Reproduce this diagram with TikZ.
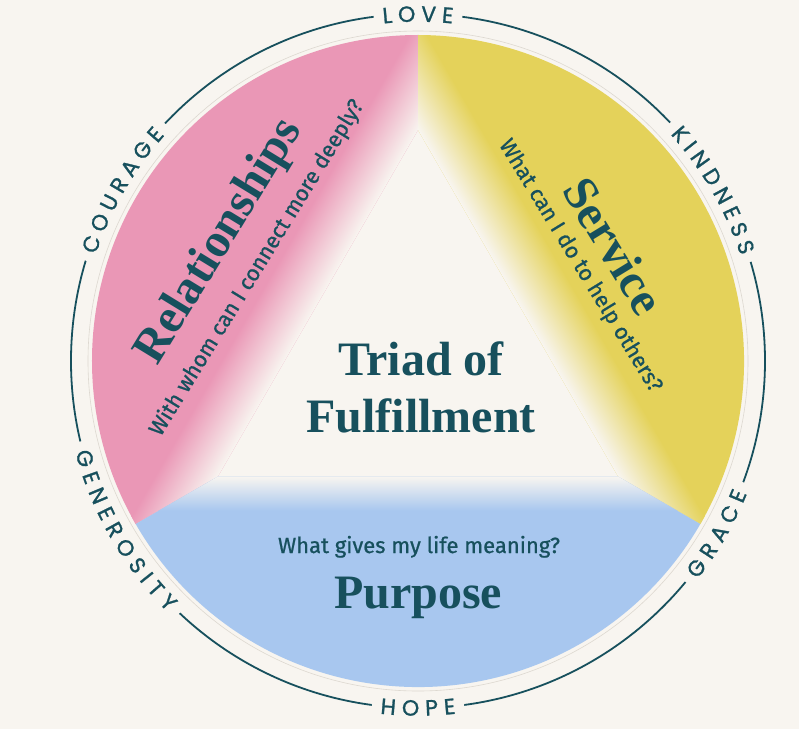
\documentclass[tikz,border=0pt]{standalone}
\usepackage{fontspec}
\setmainfont{Liberation Serif}
\newfontfamily\ringfam{Poppins}[FakeBold=1.2]
\newfontfamily\subfam{Fira Sans}[FakeBold=0.8]
\definecolor{bgc}{HTML}{F8F5F0}
\definecolor{pinkc}{HTML}{EA97B6}
\definecolor{yellowc}{HTML}{E4D25A}
\definecolor{bluec}{HTML}{A8C7EF}
\definecolor{tealc}{HTML}{17505D}
\definecolor{faintc}{HTML}{DDD8D0}
\newcommand\ringfont{\ringfam\fontsize{22}{22}\selectfont}
\newdimen\rwlen
\def\ringtrack{6}
\def\ringR{347}
\newcommand\measureletters[1]{%
  \foreach \rwch in {#1}{%
    \settowidth\rwlen{\ringfont\rwch}%
    \expandafter\xdef\csname rww\rwch\endcsname{\the\rwlen}}}
\newcommand\ringword[3]{%
  \gdef\rwsum{0}%
  \foreach \rwch in {#3}{%
    \edef\rwwid{\csname rww\rwch\endcsname}%
    \pgfmathsetmacro\rwtmp{\rwsum+\rwwid+\ringtrack}%
    \global\let\rwsum\rwtmp}%
  \pgfmathsetmacro\rwW{\rwsum-\ringtrack}%
  \pgfmathsetmacro\rwhalf{deg((\rwW/2+9)/\ringR)}%
  \pgfmathsetmacro\rwstart{#1-\rwhalf}%
  \pgfmathsetmacro\rwend{#1+\rwhalf}%
  \draw[gapline] (\rwstart:\ringR) arc[start angle=\rwstart, end angle=\rwend, radius=\ringR];
  \gdef\rwpos{0}%
  \foreach \rwch in {#3}{%
    \edef\rwwid{\csname rww\rwch\endcsname}%
    \pgfmathsetmacro\rwang{#1-(#2)*deg((\rwpos+\rwwid/2-\rwW/2)/\ringR)}%
    \pgfmathsetmacro\rwrot{\rwang-(#2)*90}%
    \node[ringletter, rotate=\rwrot] at (\rwang:\ringR) {\rwch};
    \pgfmathsetmacro\rwtmp{\rwpos+\rwwid+\ringtrack}%
    \global\let\rwpos\rwtmp}%
}
\tikzset{
  ringletter/.style={text=tealc, font=\ringfont, inner sep=0pt, anchor=center, text height=15.4pt, text depth=0pt},
  gapline/.style={draw=bgc, line width=6pt},
  ringline/.style={draw=tealc, line width=1.8pt},
  faint/.style={draw=faintc, line width=0.6pt},
  title/.style={text=tealc, font=\bfseries\fontsize{48}{48}\selectfont, inner sep=0pt},
  subtitle/.style={text=tealc, font=\subfam\fontsize{22}{22}\selectfont, inner sep=0pt},
}
\begin{document}
\measureletters{L,O,V,E,K,I,N,D,S,C,U,R,A,G,H,P,T,Y}%
\begin{tikzpicture}[x=1pt, y=1pt]
  \fill[bgc] (-418,-368) rectangle (381,361);
  \useasboundingbox (-418,-368) rectangle (381,361);
  \coordinate (O) at (0,0);
  % pink sector
  \begin{scope}
    \clip (90:231) -- (90:326) arc[start angle=90, end angle=210, radius=326] -- (210:231) -- cycle;
    \fill[pinkc] (-420,-370) rectangle (400,370);
    \begin{scope}[transform canvas={shift={(150:115.5)}, rotate=60}]
      \shade[bottom color=bgc, top color=pinkc] (-320,0) rectangle (320,55);
    \end{scope}
  \end{scope}
  % yellow sector
  \begin{scope}
    \clip (330:231) -- (330:326) arc[start angle=330, end angle=450, radius=326] -- (90:231) -- cycle;
    \fill[yellowc] (-420,-370) rectangle (400,370);
    \begin{scope}[transform canvas={shift={(30:115.5)}, rotate=-60}]
      \shade[bottom color=bgc, top color=yellowc] (-320,0) rectangle (320,55);
    \end{scope}
  \end{scope}
  % blue sector
  \begin{scope}
    \clip (210:231) -- (210:326) arc[start angle=210, end angle=330, radius=326] -- (330:231) -- cycle;
    \fill[bluec] (-420,-370) rectangle (400,370);
    \begin{scope}[transform canvas={shift={(270:115.5)}, rotate=180}]
      \shade[bottom color=bgc, top color=bluec] (-320,0) rectangle (320,34);
    \end{scope}
  \end{scope}
  \draw[faint] (O) circle[radius=330];
  % outer ring
  \draw[ringline] (O) circle[radius=\ringR];
  \ringword{90}{1}{L,O,V,E}
  \ringword{30}{1}{K,I,N,D,N,E,S,S}
  \ringword{150}{1}{C,O,U,R,A,G,E}
  \ringword{-30}{-1}{G,R,A,C,E}
  \ringword{270}{-1}{H,O,P,E}
  \ringword{210}{-1}{G,E,N,E,R,O,S,I,T,Y}
  % texts
  \node[title, rotate=58.5] (rel) at (-198,119) {Relationships};
  \node[subtitle, rotate=58.5] (relq) at (-161,93) {With whom can I connect more deeply?};
  \node[title, rotate=-58.5] (serv) at (196,115) {Service};
  \node[subtitle, rotate=-58.5] (servq) at (162,95) {What can I do to help others?};
  \node[title, anchor=base] (triad1) at (3,-14) {Triad of};
  \node[title, anchor=base] (triad2) at (3,-71) {Fulfillment};
  \node[subtitle, anchor=base] (purq) at (1,-192) {What gives my life meaning?};
  \node[title, anchor=base] (pur) at (0,-247) {Purpose};
\end{tikzpicture}
\end{document}
